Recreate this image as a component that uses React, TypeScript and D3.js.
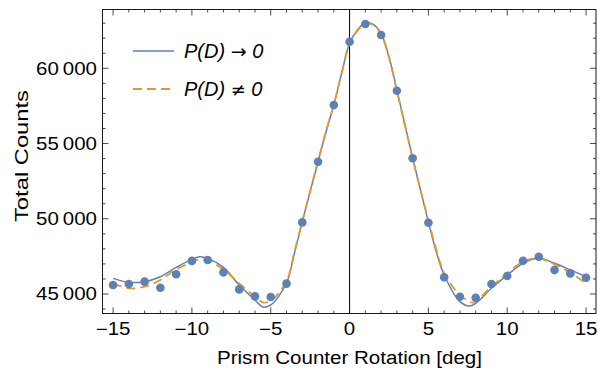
import React from "react";
import * as d3 from "d3";

const angles = [-15,-14,-13,-12,-11,-10,-9,-8,-7,-6,-5,-4,-3,-2,-1,0,1,2,3,4,5,6,7,8,9,10,11,12,13,14,15];
const counts = [45600,45660,45820,45420,46310,47200,47260,46440,45310,44840,44800,45690,49760,53790,57560,61760,62940,62210,58510,54020,49740,46110,44820,44750,45660,46200,47210,47480,46590,46370,46080];
const countErr = 230;

const blueX = [-15,-14,-13,-12,-11,-10,-9.5,-9,-8,-7,-6,-5.5,-5,-4,-3.5,-3,-2.5,-2,-1.5,-1,-0.5,0,0.5,1,1.5,2,2.5,3,3.5,4,4.5,5,5.5,6,7,7.6,8,9,10,11,12,13,14,15];
const blueY = [46040,45780,45820,46150,46770,47300,47480,47370,46770,45600,44600,44140,44270,45730,47700,49790,51800,53790,55750,57560,59670,61660,62550,63030,62920,62320,60770,58560,56300,54040,51900,49790,47800,46260,44490,44200,44380,45380,46260,47040,47370,47040,46600,46150];

const orangeX = [-15,-14,-13,-12,-11,-10,-9.5,-9,-8,-7,-6,-5.5,-5,-4,-3.5,-3,-2.5,-2,-1.5,-1,-0.5,0,0.5,1,1.5,2,2.5,3,3.5,4,4.5,5,5.5,6,7,7.8,8,9,10,11,12,13,14,15];
const orangeY = [45710,45380,45490,45930,46640,47110,47300,47210,46640,45710,44820,44450,44540,45860,47800,49850,51850,53850,55800,57600,59700,61650,62500,62940,62880,62250,60700,58500,56250,54000,51900,49900,47950,46400,44930,44420,44490,45490,46380,47150,47370,46970,46420,45710];

const xTicks = [-15,-10,-5,0,5,10,15];
const xMinor = d3.range(-15, 16, 1);
const yTicks = [45000,50000,55000,60000];
const yMinor = d3.range(44000, 64000, 1000);

const legendPrefix = "P(D) ";
const legendOps = ["\u2192", "\u2260"];
const legendSuffix = " 0";

const BLUE = "#5E81B5";
const ORANGE = "#E19C24";
const FONT = "'Liberation Sans', Arial, sans-serif";

export default function App() {
  const W = 598, H = 370;
  const L = 102.5, R = 596, T = 9.5, B = 313.5;
  const x = d3.scaleLinear().domain([-15.67, 15.63]).range([L, R]);
  const y = d3.scaleLinear().domain([43704, 63908]).range([B, T]);

  const line = d3.line<[number, number]>()
    .x(d => x(d[0])).y(d => y(d[1]))
    .curve(d3.curveCatmullRom.alpha(0.5));
  const bluePath = line(blueX.map((v, i) => [v, blueY[i]]) as [number, number][]) || "";
  const orangePath = line(orangeX.map((v, i) => [v, orangeY[i]]) as [number, number][]) || "";

  const fmt = (v: number) => {
    const s = String(Math.abs(v));
    const t = s.length > 3 ? s.slice(0, s.length - 3) + "\u2009" + s.slice(-3) : s;
    return (v < 0 ? "\u2212" : "") + t;
  };
  const frame = "#1a1a1a";
  const SX = 1.17;

  return (
    <svg width={W} height={H} style={{ position: "absolute", left: 0, top: 0 }} fontFamily={FONT}>
      <rect x={0} y={0} width={W} height={H} fill="#fff" />
      <defs>
        <clipPath id="plotclip">
          <rect x={L} y={T} width={R - L} height={B - T} />
        </clipPath>
      </defs>
      <line x1={x(0)} x2={x(0)} y1={T} y2={B} stroke="#000" strokeWidth={1} />
      <g clipPath="url(#plotclip)">
        <path d={bluePath} fill="none" stroke={BLUE} strokeWidth={1.5} />
        <path d={orangePath} fill="none" stroke={ORANGE} strokeWidth={1.8} strokeDasharray="9,5" />
        {angles.map((a, i) => (
          <g key={i}>
            <line x1={x(a)} x2={x(a)} y1={y(counts[i] - countErr)} y2={y(counts[i] + countErr)} stroke={BLUE} strokeWidth={2.2} />
            <circle cx={x(a)} cy={y(counts[i])} r={4.3} fill={BLUE} />
          </g>
        ))}
      </g>
      <rect x={L} y={T} width={R - L} height={B - T} fill="none" stroke={frame} strokeWidth={1} />
      {xMinor.map(v => {
        const major = v % 5 === 0;
        const len = major ? 6 : 3;
        return (
          <g key={"xt" + v} stroke={frame} strokeWidth={0.8}>
            <line x1={x(v)} x2={x(v)} y1={B} y2={B - len} />
            <line x1={x(v)} x2={x(v)} y1={T} y2={T + len} />
          </g>
        );
      })}
      {yMinor.map(v => {
        const major = v % 5000 === 0;
        const len = major ? 6 : 3;
        if (y(v) < T || y(v) > B) return null;
        return (
          <g key={"yt" + v} stroke={frame} strokeWidth={0.8}>
            <line x1={L} x2={L + len} y1={y(v)} y2={y(v)} />
            <line x1={R} x2={R - len} y1={y(v)} y2={y(v)} />
          </g>
        );
      })}
      {xTicks.map(v => (
        <g key={"xl" + v} transform={`translate(${x(v)},335) scale(${SX},1)`}>
          <text x={0} y={0} textAnchor="middle" fontSize={17.5} fill="#000">{fmt(v)}</text>
        </g>
      ))}
      {yTicks.map(v => (
        <g key={"yl" + v} transform={`translate(97,${y(v) + 6.2}) scale(${SX},1)`}>
          <text x={0} y={0} textAnchor="end" fontSize={17.5} fill="#000">{fmt(v)}</text>
        </g>
      ))}
      <text x={(217 + 482) / 2} y={364} textAnchor="middle" fontSize={18} fill="#000"
        textLength={265} lengthAdjust="spacingAndGlyphs">Prism Counter Rotation [deg]</text>
      <text transform={`translate(28,156) rotate(-90)`} textAnchor="middle" fontSize={19} fill="#000"
        textLength={132} lengthAdjust="spacingAndGlyphs">Total Counts</text>
      {[0, 1].map(i => (
        <g key={"lg" + i}>
          <line x1={133} x2={174} y1={51 + i * 38} y2={51 + i * 38}
            stroke={i === 0 ? BLUE : ORANGE} strokeWidth={i === 0 ? 1.5 : 1.8}
            strokeDasharray={i === 0 ? undefined : "9,5"} />
          <text x={184} y={58 + i * 38} fontSize={20} fontStyle="italic" fill="#000">
            {legendPrefix}
            <tspan fontFamily="'DejaVu Sans', sans-serif" fontStyle="normal" fontSize={i === 0 ? 19 : 18}>{legendOps[i]}</tspan>
            {legendSuffix}
          </text>
        </g>
      ))}
    </svg>
  );
}
